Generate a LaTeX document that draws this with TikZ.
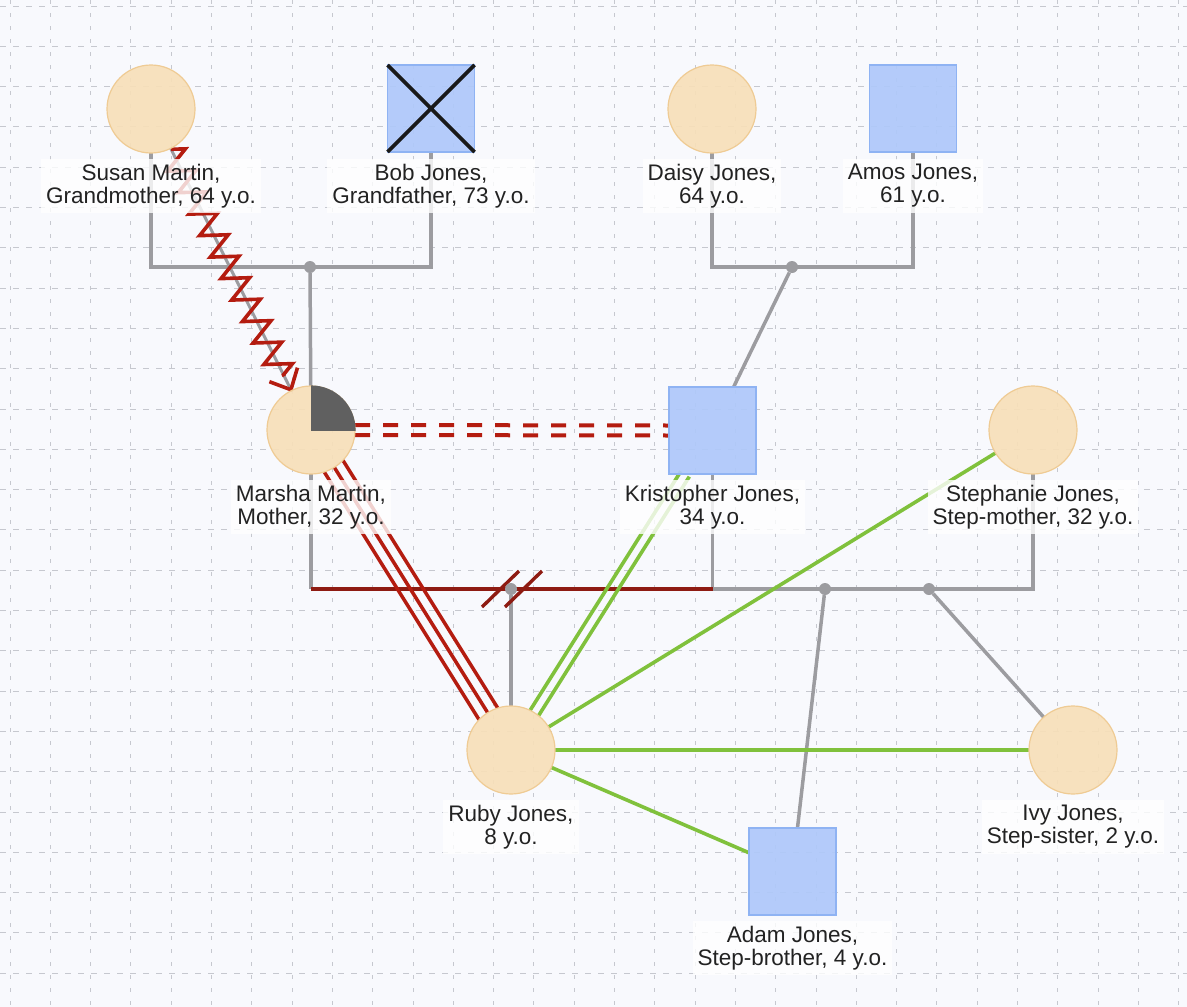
\documentclass[tikz,border=0pt]{standalone}
\usepackage{fontspec}
\setmainfont{Liberation Sans}
\usetikzlibrary{calc,decorations.pathmorphing,arrows.meta}
\definecolor{bgc}{HTML}{F8F9FD}
\definecolor{gridc}{HTML}{C6C8CF}
\definecolor{femc}{HTML}{F7DFB9}
\definecolor{femb}{HTML}{EFCB94}
\definecolor{malc}{HTML}{AFC8FA}
\definecolor{malb}{HTML}{8FB3F3}
\definecolor{linec}{HTML}{9C9CA0}
\definecolor{redc}{HTML}{B41C10}
\definecolor{dredc}{HTML}{8E1B12}
\definecolor{greenc}{HTML}{80C13C}
\definecolor{piec}{HTML}{606060}
\definecolor{textc}{HTML}{222222}
\pgfdeclarelayer{back}
\pgfdeclarelayer{mid}
\pgfsetlayers{back,mid,main}
\begin{document}
\begin{tikzpicture}[x=1pt,y=-1pt,
 female/.style={circle, fill=femc, fill opacity=0.92, draw=femb, line width=1.2pt, minimum size=88pt, inner sep=0pt, outer sep=0pt},
 male/.style={rectangle, fill=malc, fill opacity=0.92, draw=malb, line width=1.2pt, minimum size=87pt, inner sep=0pt, outer sep=0pt},
 lbl/.style={fill=white, fill opacity=0.8, text opacity=1, align=center, inner sep=5pt, font=\fontsize{22.5}{23}\selectfont, text=textc},
 gline/.style={draw=linec, line width=3.5pt},
 jdot/.style={circle, fill=linec, inner sep=0pt, minimum size=12pt},
 redl/.style={draw=redc, line width=3.8pt},
 dredl/.style={draw=dredc, line width=3.6pt},
 greenl/.style={draw=greenc, line width=3.6pt},
]
\useasboundingbox (0,0) rectangle (1187,1007);
\begin{pgfonlayer}{back}
\fill[bgc] (0,0) rectangle (1187,1007);
\foreach \i in {0,...,29} \draw[gridc, line width=1pt, dash pattern=on 4pt off 9pt] ({10+40.3*\i},0) -- ({10+40.3*\i},1007);
\foreach \j in {0,...,25} \draw[gridc, line width=1pt, dash pattern=on 6pt off 7pt] (0,{6+40.3*\j}) -- (1187,{6+40.3*\j});
\end{pgfonlayer}

% persons
\node[female] (susan) at (151,109) {};
\node[male] (bob) at (431,108.5) {};
\node[female] (daisy) at (712,109) {};
\node[male] (amos) at (913,108.5) {};
\node[female] (marsha) at (311,430) {};
\node[male] (kris) at (712.5,430.5) {};
\node[female] (steph) at (1033,430) {};
\node[female] (ruby) at (511,750) {};
\node[female] (ivy) at (1073,750) {};
\node[male] (adam) at (792.5,871.5) {};

% deceased cross and pie
\draw[black!90, line width=3.8pt] (bob.north west) -- (bob.south east) (bob.north east) -- (bob.south west);
\begin{scope}
\clip (marsha.center) rectangle ++(50,-50);
\fill[piec] (marsha.center) circle[radius=44.6pt];
\end{scope}

% junctions
\node[jdot] (j1) at (310,267) {};
\node[jdot] (j2) at (792,267) {};
\node[jdot] (j3) at (511,589) {};
\node[jdot] (j4) at (825,589) {};
\node[jdot] (j5) at (929,589) {};
\coordinate (mkl) at (marsha |- j3);
\coordinate (mkr) at (kris |- j3);
\coordinate (ksr) at (steph |- j3);
\coordinate (zzs) at ($(susan.center)!45pt!(marsha.center)$);
\coordinate (zze) at ($(marsha.center)!60pt!(susan.center)$);
\coordinate (tip) at ($(marsha.center)!45pt!(susan.center)$);
\coordinate (arm1) at ($(tip)!23pt!43:(susan.center)$);
\coordinate (arm2) at ($(tip)!23pt!-43:(susan.center)$);

\begin{pgfonlayer}{mid}
% family lines
\draw[gline] (susan) |- (j1.center) -| (bob);
\draw[gline] (daisy) |- (j2.center) -| (amos);
\draw[gline] (j1) -- (marsha);
\draw[gline] (j2) -- (kris);
\draw[gline] (marsha) -- (mkl);
\draw[gline] (kris) -- (mkr);
\draw[gline] (mkr) -- (ksr) -- (steph);
\draw[dredl] (mkl) -- (mkr);
\draw[gline] (j3) -- (ruby);
\draw[gline] (j4) -- (adam);
\draw[gline] (j5) -- (ivy);
% divorce slashes
\draw[dredl, line width=3.4pt] ([shift={(-29,18)}]j3.center) -- ([shift={(8,-18)}]j3.center);
\draw[dredl, line width=3.4pt] ([shift={(-6,18)}]j3.center) -- ([shift={(31,-18)}]j3.center);

% emotional lines
\draw[linec, line width=3pt] (susan) -- (marsha);
\draw[redl, line width=3.6pt, line join=miter, decorate, decoration={zigzag, segment length=24pt, amplitude=13pt}] (zzs) -- (zze);
\draw[redl, line width=3.6pt, line join=miter] (arm1) -- (tip) -- (arm2);
\draw[redl, line width=4pt, dash pattern=on 15pt off 13pt] ([yshift=5pt]marsha.east) -- ([yshift=5pt]kris.west);
\draw[redl, line width=4pt, dash pattern=on 15pt off 13pt] ([yshift=-5pt]marsha.east) -- ([yshift=-5pt]kris.west);
\foreach \o/\s in {-11pt/42.6pt, 0pt/44pt, 11pt/42.6pt}
  \draw[redl, line width=3.5pt, shorten <=\s, shorten >=\s] ($(marsha.center)!\o!90:(ruby.center)$) -- ($(ruby.center)!\o!-90:(marsha.center)$);
\foreach \o in {-5pt, 5pt}
  \draw[greenl, shorten <=51.4pt, shorten >=43.7pt] ($(kris.center)!\o!90:(ruby.center)$) -- ($(ruby.center)!\o!-90:(kris.center)$);
\draw[greenl] (steph) -- (ruby);
\draw[greenl] (ivy) -- (ruby);
\draw[greenl] (adam) -- (ruby);
\end{pgfonlayer}

% labels
\node[lbl] (susanL) at ($(susan)+(0,77)$) {Susan Martin,\\Grandmother, 64 y.o.};
\node[lbl] (bobL) at ($(bob)+(0,77.5)$) {Bob Jones,\\Grandfather, 73 y.o.};
\node[lbl] (daisyL) at ($(daisy)+(0,77)$) {Daisy Jones,\\64 y.o.};
\node[lbl] (amosL) at ($(amos)+(0,77.5)$) {Amos Jones,\\61 y.o.};
\node[lbl] (marshaL) at ($(marsha)+(0,77)$) {Marsha Martin,\\Mother, 32 y.o.};
\node[lbl] (krisL) at ($(kris)+(0,76.5)$) {Kristopher Jones,\\34 y.o.};
\node[lbl] (stephL) at ($(steph)+(0,77)$) {Stephanie Jones,\\Step-mother, 32 y.o.};
\node[lbl] (rubyL) at ($(ruby)+(0,77)$) {Ruby Jones,\\8 y.o.};
\node[lbl] (ivyL) at ($(ivy)+(0,77)$) {Ivy Jones,\\Step-sister, 2 y.o.};
\node[lbl] (adamL) at ($(adam)+(0,76.5)$) {Adam Jones,\\Step-brother, 4 y.o.};
\end{tikzpicture}
\end{document}
